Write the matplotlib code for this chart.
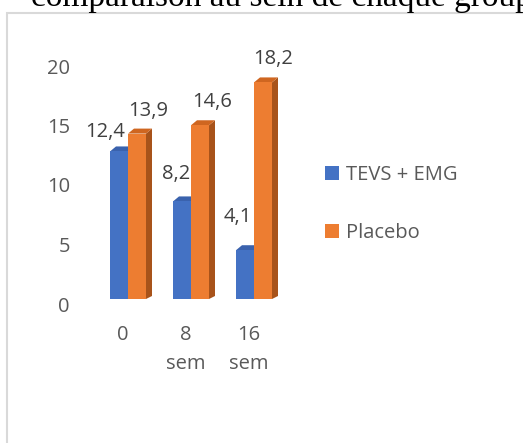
import matplotlib
matplotlib.use("Agg")
import matplotlib.pyplot as plt
from matplotlib.patches import Polygon, Rectangle, Patch
from matplotlib.transforms import ScaledTranslation

BLUE = "#4472C4"
BLUE_TOP = "#3A62AD"
BLUE_SIDE = "#2E5293"
ORANGE = "#ED7D31"
ORANGE_TOP = "#CF6620"
ORANGE_SIDE = "#A8531A"
TICK = "#595959"
LABEL = "#404040"
BORDER = "#D9D9D9"

categories = ["0", "8\nsem", "16\nsem"]
tevs_emg = [12.4, 8.2, 4.1]
placebo = [13.9, 14.6, 18.2]
series_names = ["TEVS + EMG", "Placebo"]
yticks = [0, 5, 10, 15, 20]

# label nudges in pixels (dx, dy above the front top edge)
NUDGE_BLUE = [(-14, 9), (-6, 17), (-7, 23)]
NUDGE_ORANGE = [(11, 13), (12, 13), (10, 13)]

W, H, DPI = 523, 443, 100
FS = 14.5
fig = plt.figure(figsize=(W / DPI, H / DPI), dpi=DPI)
fig.patch.set_facecolor("white")

XMIN, XMAX = -0.9, 2.6
YMIN, YMAX = 0, 20
ax_l, ax_r = 71.3, 291.8
ax_top, ax_bot = 61, 299
ax = fig.add_axes([ax_l / W, (H - ax_bot) / H, (ax_r - ax_l) / W, (ax_bot - ax_top) / H])
ax.set_xlim(XMIN, XMAX)
ax.set_ylim(YMIN, YMAX)
for s in ax.spines.values():
    s.set_visible(False)

px_x = (ax_r - ax_l) / (XMAX - XMIN)
px_y = (ax_bot - ax_top) / (YMAX - YMIN)
bw = 18 / px_x
ddx = 6 / px_x
ddy = 5 / px_y

fonts = ["Open Sans", "DejaVu Sans"]


def bar3d(xc, h, face, top, side, z):
    x0, x1 = xc - bw / 2, xc + bw / 2
    ax.bar(xc, h, width=bw, color=face, zorder=z, linewidth=0)
    ax.add_patch(Polygon([(x1, 0), (x1 + ddx, ddy * 0.6), (x1 + ddx, h + ddy), (x1, h)],
                         closed=True, facecolor=side, edgecolor="none", zorder=z - 0.5))
    ax.add_patch(Polygon([(x0, h), (x1, h), (x1 + ddx, h + ddy), (x0 + ddx, h + ddy)],
                         closed=True, facecolor=top, edgecolor="none", zorder=z - 0.5))


xs = list(range(len(categories)))
for i, x in enumerate(xs):
    xb = x - bw / 2
    xo = x + bw / 2
    bar3d(xb, tevs_emg[i], BLUE, BLUE_TOP, BLUE_SIDE, 3)
    bar3d(xo, placebo[i], ORANGE, ORANGE_TOP, ORANGE_SIDE, 5)
    for xc, v, (ndx, ndy) in [(xb, tevs_emg[i], NUDGE_BLUE[i]), (xo, placebo[i], NUDGE_ORANGE[i])]:
        ax.text(xc, v, f"{v:.1f}".replace(".", ","), ha="center", va="bottom",
                fontsize=FS, color=LABEL, family=fonts, zorder=10,
                transform=ax.transData + ScaledTranslation(ndx / DPI, ndy / DPI, fig.dpi_scale_trans))

ax.set_yticks(yticks)
ax.set_yticklabels([str(v) for v in yticks], fontsize=FS, color=TICK, family=fonts)
ax.set_xticks(xs)
ax.set_xticklabels(categories, fontsize=FS, color=TICK, family=fonts, linespacing=1.6)
ax.tick_params(axis="both", length=0)
ax.tick_params(axis="y", pad=1)
ax.tick_params(axis="x", pad=19)
for lbl in ax.get_yticklabels():
    lbl.set_transform(lbl.get_transform() + ScaledTranslation(0, -5 / DPI, fig.dpi_scale_trans))
for lbl in ax.get_xticklabels():
    lbl.set_transform(lbl.get_transform() + ScaledTranslation(-5 / DPI, 0, fig.dpi_scale_trans))

handles = [Patch(facecolor=BLUE), Patch(facecolor=ORANGE)]
leg = fig.legend(handles, series_names, loc="upper left",
                 bbox_to_anchor=(325 / W, 1 - 165 / H), frameon=False,
                 prop={"family": fonts, "size": FS}, labelcolor=TICK,
                 handlelength=0.7, handleheight=0.7, handletextpad=0.35,
                 labelspacing=1.9, borderpad=0, borderaxespad=0)

# chart border (frame extends off the bottom/right of the crop)
fig.add_artist(Rectangle((7 / W, -0.1), 1.2, (1 - 13 / H) + 0.1, transform=fig.transFigure,
                         facecolor="none", edgecolor=BORDER, linewidth=1.5, zorder=0))

# title, cut off at the top
fig.text(31 / W, 1 - 6 / H, "comparaison au sein de chaque groupe", ha="left", va="baseline",
         fontsize=24, family=["Liberation Serif", "DejaVu Serif"], color="black")

fig.savefig("out.png", dpi=DPI, facecolor="white")
